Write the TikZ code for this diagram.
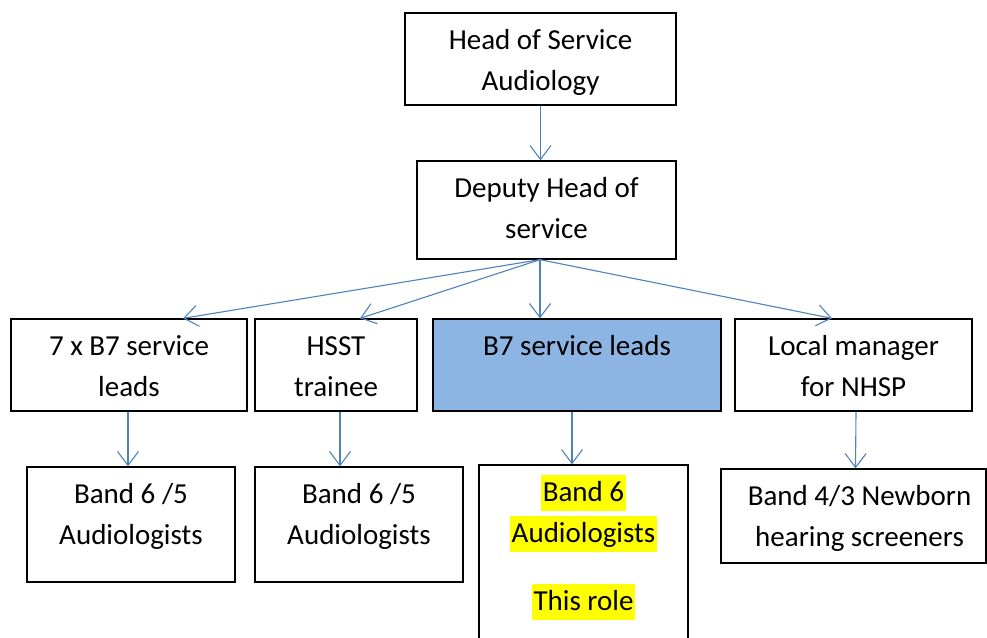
\documentclass[tikz,border=0pt]{standalone}
\usepackage{fontspec}
\setmainfont{Carlito}
\usepackage{tikz}
\usetikzlibrary{shapes,arrows.meta}
\definecolor{orgrole}{rgb}{0.55,0.71,0.89}
\definecolor{orglink}{rgb}{0.31,0.51,0.74}
\definecolor{orghl}{rgb}{1.00,1.00,0.00}
\newcommand{\orgfont}{\fontsize{29pt}{41pt}\selectfont}
\tikzstyle{orgbox}=[rectangle, draw, line width=1.3pt, inner sep=0pt]
\tikzstyle{orgrole}=[orgbox, fill=orgrole]
\tikzstyle{orgtext}=[anchor=north, inner sep=0pt, align=center, font=\orgfont]
\tikzstyle{orglink}=[draw=orglink, line width=1.1pt, -{Straight Barb[length=14pt,width=21pt]}]
\newcommand{\orgbox}[6][orgbox]{
	\node[#1, minimum width=#4, minimum height=#5] (#2) at (#3) {};
	\node[orgtext] (#2-text) at ([yshift=-8pt]#2.north) {\rule{0pt}{29pt}#6};}
\newcommand{\rolehl}[1]{{\setlength{\fboxsep}{0pt}\colorbox{orghl}{\kern2pt\rule[-9pt]{0pt}{36pt}#1\kern2pt}}}

\begin{document}
\begin{tikzpicture}[x=1pt, y=1pt]
	\clip (0,0) rectangle (987,-637);
	\orgbox{head}{540.5,-59}{271pt}{92pt}{Head of Service\\Audiology}
	\orgbox{deputy}{546.5,-210}{259pt}{98pt}{Deputy Head of\\service}
	
	\orgbox{leads7}{129,-365}{236pt}{92pt}{7 x B7 service\\leads}
	\orgbox{hsst}{336,-365}{162pt}{92pt}{HSST\\trainee}
	\orgbox[orgrole]{leadsB7}{577,-365}{288pt}{92pt}{B7 service leads}
	\orgbox{nhsp}{853.5,-365}{237pt}{92pt}{Local manager\\for NHSP}
	
	\orgbox{bandA}{131,-524.5}{208pt}{115pt}{Band 6 /5\\Audiologists}
	\orgbox{bandB}{359,-524.5}{208pt}{115pt}{Band 6 /5\\Audiologists}
	\orgbox{thisrole}{583.5,-562.5}{209pt}{195pt}{\rolehl{Band 6}\\\rolehl{Audiologists}\\[27pt]\rolehl{This role}}
	\orgbox{screeners}{853.5,-516}{265pt}{94pt}{\hspace*{12pt}Band 4/3 Newborn\\\hspace*{12pt}hearing screeners}
	
	\path (head.south) edge[orglink] (head.south |- deputy.north);
	\path ([xshift=-6.5pt]deputy.south) edge[orglink] ([xshift=54pt]leads7.north);
	\path ([xshift=-6.5pt]deputy.south) edge[orglink] ([xshift=24pt]hsst.north);
	\path ([xshift=-6.5pt]deputy.south) edge[orglink] ([xshift=-37pt]leadsB7.north);
	\path ([xshift=-6.5pt]deputy.south) edge[orglink] ([xshift=-21.5pt]nhsp.north);
	\path ([xshift=-1pt]leads7.south) edge[orglink] ([xshift=-3pt]bandA.north);
	\path ([xshift=4pt]hsst.south) edge[orglink] ([xshift=-19pt]bandB.north);
	\path ([xshift=-5pt]leadsB7.south) edge[orglink] ([xshift=-11.5pt]thisrole.north);
	\path ([xshift=2.5pt]nhsp.south) edge[orglink] ([xshift=2pt]screeners.north);
\end{tikzpicture}
\end{document}
